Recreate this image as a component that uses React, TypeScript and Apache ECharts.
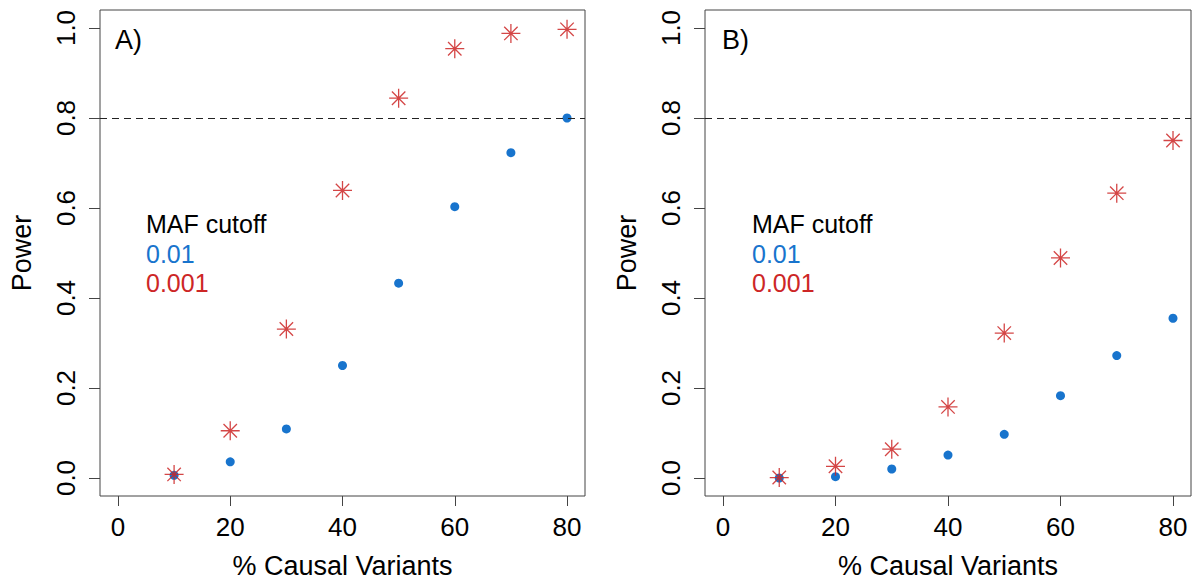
import React, { useEffect, useRef } from "react";
import * as echarts from "echarts";

const causalPct = [10, 20, 30, 40, 50, 60, 70, 80];
const powerA_maf01 = [0.006, 0.036, 0.109, 0.25, 0.433, 0.603, 0.723, 0.8];
const powerA_maf001 = [0.008, 0.105, 0.331, 0.639, 0.844, 0.954, 0.988, 0.997];
const powerB_maf01 = [0.0, 0.003, 0.02, 0.051, 0.097, 0.183, 0.272, 0.355];
const powerB_maf001 = [0.001, 0.026, 0.064, 0.158, 0.322, 0.489, 0.633, 0.75];
const xTicks = [0, 20, 40, 60, 80];
const yTicks = [0, 0.2, 0.4, 0.6, 0.8, 1.0];
const threshold = 0.8;
const panelLabels = ["A)", "B)"];
const legendTitle = "MAF cutoff";
const legendItems = ["0.01", "0.001"];

const FONT = "'Liberation Sans', Arial, Helvetica, sans-serif";
const BLUE = "#1874CD";
const RED = "#CD2626";
const STAR =
  "path://M0,-10L0,10M-10,0L10,0M-7.07,-7.07L7.07,7.07M-7.07,7.07L7.07,-7.07";

export default function App() {
  const ref = useRef<HTMLDivElement>(null);
  useEffect(() => {
    document.body.style.margin = "0";
    const chart = echarts.init(ref.current!, null, { renderer: "svg" });
    const grids = [
      { left: 100, top: 10, width: 485, height: 486 },
      { left: 705, top: 10, width: 486, height: 486 },
    ];
    const xAxes = grids.map((_, i) => ({
      type: "value",
      gridIndex: i,
      min: -3.2,
      max: 83.2,
      name: "% Causal Variants",
      nameLocation: "middle",
      nameGap: 56,
      nameTextStyle: { fontFamily: FONT, fontSize: 27, color: "#000" },
      axisLine: { show: false, onZero: false },
      splitLine: { show: false },
      axisTick: {
        show: true,
        length: 10,
        customValues: xTicks,
        lineStyle: { color: "#444", width: 1 },
      },
      axisLabel: {
        customValues: xTicks,
        margin: 18,
        fontFamily: FONT,
        fontSize: 26,
        color: "#000",
      },
    }));
    const yAxes = grids.map((_, i) => ({
      type: "value",
      gridIndex: i,
      min: -0.04,
      max: 1.04,
      name: "Power",
      nameLocation: "middle",
      nameGap: 65,
      nameTextStyle: { fontFamily: FONT, fontSize: 27, color: "#000" },
      axisLine: { show: false, onZero: false },
      splitLine: { show: false },
      axisTick: {
        show: true,
        length: 11,
        customValues: yTicks,
        lineStyle: { color: "#444", width: 1 },
      },
      axisLabel: {
        customValues: yTicks,
        rotate: 90,
        margin: 21,
        fontFamily: FONT,
        fontSize: 26,
        color: "#000",
        formatter: (v: number) => v.toFixed(1),
      },
    }));
    const pairs = (ys: number[]) => causalPct.map((x, i) => [x, ys[i]]);
    const dotSeries = (data: number[], i: number) => ({
      type: "scatter",
      xAxisIndex: i,
      yAxisIndex: i,
      data: pairs(data),
      symbol: "circle",
      symbolSize: 9,
      itemStyle: { color: BLUE, opacity: 1 },
      markLine: {
        silent: true,
        symbol: ["none", "none"],
        label: { show: false },
        lineStyle: { type: [7, 5], color: "#222", width: 1.1 },
        data: [{ yAxis: threshold }],
      },
    });
    const starSeries = (data: number[], i: number) => ({
      type: "scatter",
      xAxisIndex: i,
      yAxisIndex: i,
      data: pairs(data),
      symbol: STAR,
      symbolSize: 19,
      itemStyle: {
        color: "rgba(0,0,0,0)",
        borderColor: "rgba(205,38,38,0.85)",
        borderWidth: 1.3,
        opacity: 1,
      },
    });
    const graphics: any[] = [];
    const legendX = [146, 752];
    const labelX = [115, 722];
    [0, 1].forEach((i) => {
      graphics.push({
        type: "text",
        x: labelX[i],
        y: 40,
        style: {
          text: panelLabels[i],
          font: `27px ${FONT}`,
          fill: "#000",
          textAlign: "left",
          textVerticalAlign: "middle",
        },
      });
      graphics.push({
        type: "text",
        x: legendX[i],
        y: 224,
        style: {
          text: legendTitle,
          font: `25px ${FONT}`,
          fill: "#000",
          textAlign: "left",
          textVerticalAlign: "middle",
        },
      });
      graphics.push({
        type: "text",
        x: legendX[i],
        y: 254,
        style: {
          text: legendItems[0],
          font: `25px ${FONT}`,
          fill: BLUE,
          textAlign: "left",
          textVerticalAlign: "middle",
        },
      });
      graphics.push({
        type: "text",
        x: legendX[i],
        y: 283,
        style: {
          text: legendItems[1],
          font: `25px ${FONT}`,
          fill: RED,
          textAlign: "left",
          textVerticalAlign: "middle",
        },
      });
    });
    chart.setOption({
      animation: false,
      backgroundColor: "#fff",
      grid: grids.map((g) => ({
        ...g,
        show: true,
        borderColor: "#444",
        borderWidth: 1,
        backgroundColor: "transparent",
        containLabel: false,
        outerBoundsMode: "none",
      })),
      xAxis: xAxes,
      yAxis: yAxes,
      series: [
        dotSeries(powerA_maf01, 0),
        starSeries(powerA_maf001, 0),
        dotSeries(powerB_maf01, 1),
        starSeries(powerB_maf001, 1),
      ],
      graphic: graphics,
    } as any);
    return () => chart.dispose();
  }, []);
  return <div ref={ref} style={{ width: 1193, height: 582 }} />;
}
